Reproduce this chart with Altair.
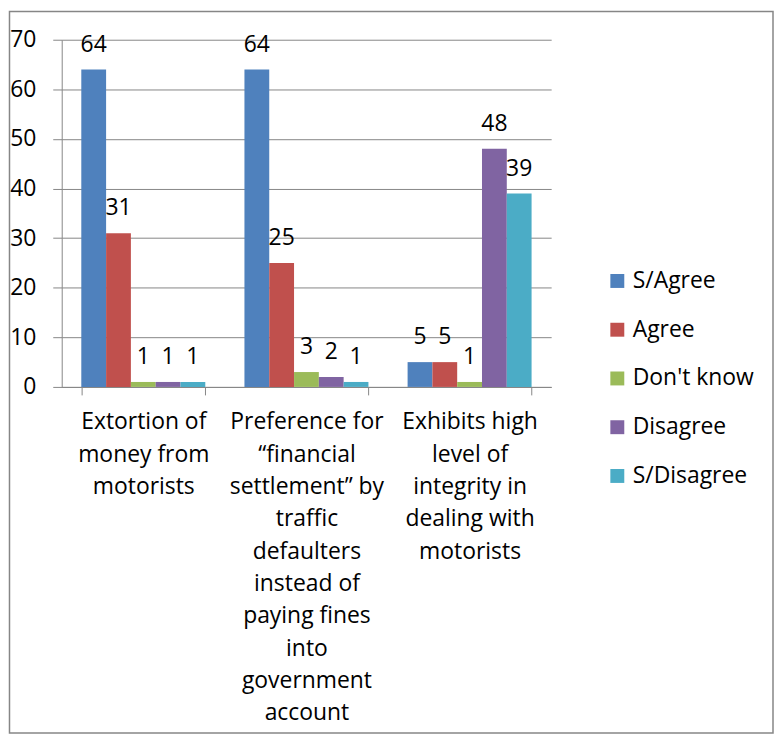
import altair as alt
import pandas as pd

categories = [
    "Extortion of money from motorists",
    "Preference for \u201cfinancial settlement\u201d by traffic defaulters instead of paying fines into government account",
    "Exhibits high level of integrity in dealing with motorists",
]
category_lines = [
    ["Extortion of", "money from", "motorists"],
    ["Preference for", "\u201cfinancial", "settlement\u201d by", "traffic", "defaulters", "instead of", "paying fines", "into", "government", "account"],
    ["Exhibits high", "level of", "integrity in", "dealing with", "motorists"],
]
series = ["S/Agree", "Agree", "Don't know", "Disagree", "S/Disagree"]
values = {
    "S/Agree": [64, 64, 5],
    "Agree": [31, 25, 5],
    "Don't know": [1, 3, 1],
    "Disagree": [1, 2, 48],
    "S/Disagree": [1, 1, 39],
}
colors = ["#4F81BD", "#C0504D", "#9BBB59", "#8064A2", "#4BACC6"]

rows = []
for s in series:
    for c, v in zip(categories, values[s]):
        rows.append({"category": c, "series": s, "value": v})
df = pd.DataFrame(rows)

# label expression for multi-line category labels
expr = "''"
for c, lines in reversed(list(zip(categories, category_lines))):
    arr = "[" + ",".join("'" + l.replace("'", "\\'") + "'" for l in lines) + "]"
    cs = c.replace("'", "\\'")
    expr = f"datum.label == '{cs}' ? {arr} : ({expr})"

FONT = "Open Sans"
FS = 23
GRAY = "#868686"

x = alt.X(
    "category:N",
    sort=categories,
    title=None,
    scale=alt.Scale(paddingInner=0.24, paddingOuter=0.12),
    axis=alt.Axis(
        labelAngle=0,
        labelExpr=expr,
        labelLineHeight=32.5,
        labelFontSize=FS,
        labelFont=FONT,
        labelColor="black",
        labelPadding=16,
        labelLimit=0,
        tickBand="extent",
        tickSize=8,
        tickColor=GRAY,
        domainColor=GRAY,
        labelBaseline="top",
    ),
)
y = alt.Y(
    "value:Q",
    title=None,
    scale=alt.Scale(domain=[0, 70]),
    axis=alt.Axis(
        values=list(range(0, 71, 10)),
        labelFontSize=FS,
        labelFont=FONT,
        labelColor="black",
        labelPadding=17,
        tickSize=9,
        tickColor=GRAY,
        domainColor=GRAY,
        gridColor=GRAY,
    ),
)
xo = alt.XOffset("series:N", sort=series, scale=alt.Scale(paddingInner=0, paddingOuter=0))

bars = alt.Chart(df).mark_bar().encode(
    x=x,
    y=y,
    xOffset=xo,
    color=alt.Color(
        "series:N",
        sort=series,
        scale=alt.Scale(domain=series, range=colors),
        legend=alt.Legend(
            title=None,
            orient="none",
            legendX=547,
            legendY=231,
            symbolType="square",
            symbolSize=196,
            symbolStrokeWidth=0,
            labelFontSize=FS,
            labelFont=FONT,
            labelColor="black",
            labelOffset=4,
            rowPadding=25,
        ),
    ),
)

labels = alt.Chart(df).mark_text(
    baseline="alphabetic", dy=-18, fontSize=FS, font=FONT, color="black"
).encode(x=x, y=y, xOffset=xo, text="value:Q")

border = alt.Chart(pd.DataFrame({"a": [0]})).mark_rect(
    fill="transparent", stroke=GRAY, strokeWidth=1.5
).encode(
    x=alt.value(-52.5), x2=alt.value(715), y=alt.value(-28.5), y2=alt.value(697)
)

chart = alt.layer(bars, labels, border).properties(
    width=492,
    height=349,
    padding={"left": 54, "top": 30, "right": 224, "bottom": 349},
    autosize=alt.AutoSizeParams(type="none"),
).configure_view(stroke="transparent")

chart.save("out.html", embed_options={"renderer": "svg", "actions": False})
